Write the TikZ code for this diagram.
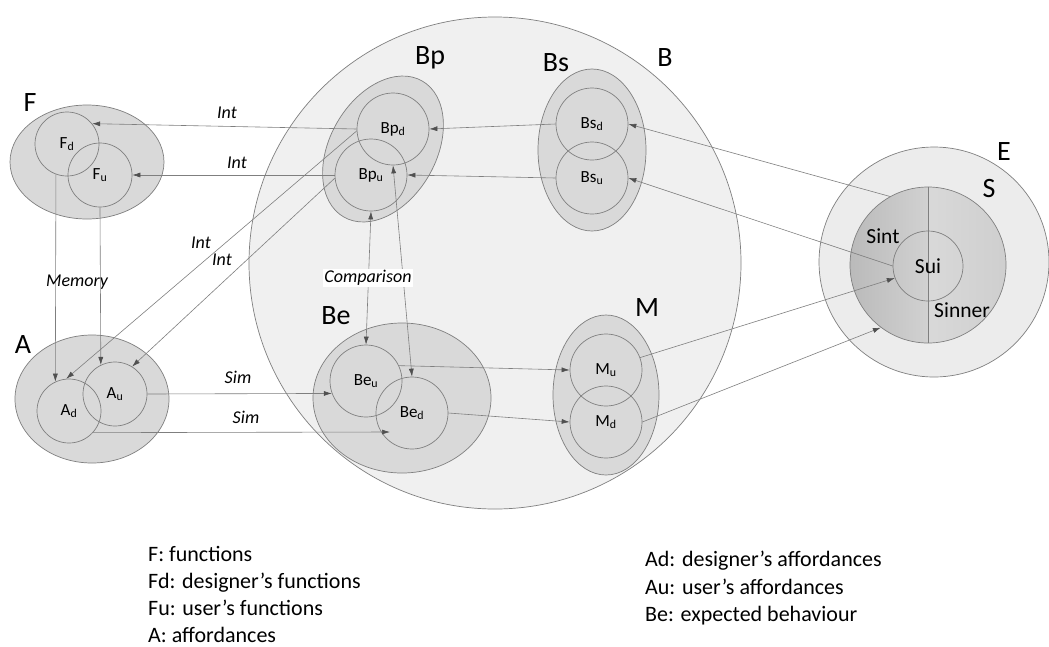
\documentclass[tikz,border=0pt]{standalone}
\usepackage{fontspec}
\setmainfont{Carlito}
\usetikzlibrary{shapes.geometric,arrows.meta,calc}
\definecolor{lgray}{HTML}{D9D9D9}
\definecolor{bgray}{HTML}{F0F0F0}
\definecolor{egray}{HTML}{ECECEC}
\definecolor{lineg}{HTML}{7F7F7F}
\definecolor{arrg}{HTML}{505050}
\begin{document}
\begin{tikzpicture}[x=1pt,y=-1pt,
  outline/.style={draw=lineg, line width=0.7pt},
  grp/.style={outline, fill=lgray, ellipse, inner sep=0pt},
  incirc/.style={outline, circle, inner sep=0pt, minimum size=#1, font=\fontsize{17}{19}\selectfont},
  incirc/.default=72pt,
  biglab/.style={font=\fontsize{28}{30}\selectfont, inner sep=0pt},
  mid/.style={font=\fontsize{21.5}{24}\selectfont, inner sep=0pt},
  lab/.style={font=\itshape\fontsize{18}{20}\selectfont, inner sep=1pt},
  conn/.style={draw=lineg, line width=0.6pt, -{Latex[length=8pt,width=5pt,color=arrg]}},
  dconn/.style={draw=lineg, line width=0.6pt, {Latex[length=8pt,width=5pt,color=arrg]}-{Latex[length=8pt,width=5pt,color=arrg]}},
  legend/.style={font=\fontsize{22}{27}\selectfont, anchor=base west, inner sep=0pt}
]
\useasboundingbox (0,0) rectangle (1049,646);
\fill[white] (0,0) rectangle (1049,646);

% big circle B
\node[circle, outline, fill=bgray, minimum size=492pt, inner sep=0pt] (B) at (495,263) {};

% E and S
\node[circle, outline, fill=egray, minimum size=230pt, inner sep=0pt] (E) at (934,262) {};
\begin{scope}
  \clip (928,265) circle (78pt);
  \shade[left color=black!27, right color=black!18] (850,187) rectangle (928,343);
  \shade[left color=black!15, right color=black!19] (928,187) rectangle (1006,343);
\end{scope}
\node[circle, outline, minimum size=156pt, inner sep=0pt] (S) at (928,265) {};
\draw[outline] (S.north) -- (S.south);
\node[circle, outline, minimum size=70pt, inner sep=0pt] (Sui) at (928,266) {};

% group ellipses
\node[grp, minimum width=154pt, minimum height=114pt] (F) at (87,162) {};
\node[grp, minimum width=154pt, minimum height=128pt] (A) at (92,399) {};
\node[grp, minimum width=157pt, minimum height=106pt, rotate=60] (Bp) at (383,149) {};
\node[grp, minimum width=108pt, minimum height=162pt] (Bs) at (592,150) {};
\node[grp, minimum width=178pt, minimum height=150pt] (Be) at (402,398) {};
\node[grp, minimum width=106pt, minimum height=160pt] (M) at (606,395) {};

% inner circles
\node[incirc=64pt] (Fd) at (67,144) {F\textsubscript{d}};
\node[incirc=64pt] (Fu) at (100,175) {F\textsubscript{u}};
\node[incirc=64pt] (Ad) at (69,411) {A\textsubscript{d}};
\node[incirc=64pt] (Au) at (115,394) {A\textsubscript{u}};
\node[incirc] (Bpd) at (393,129) {Bp\textsubscript{d}};
\node[incirc] (Bpu) at (371,175) {Bp\textsubscript{u}};
\node[incirc] (Bsd) at (592,124) {Bs\textsubscript{d}};
\node[incirc] (Bsu) at (592,178) {Bs\textsubscript{u}};
\node[incirc] (Beu) at (366,381) {Be\textsubscript{u}};
\node[incirc] (Bed) at (412,413) {Be\textsubscript{d}};
\node[incirc] (Mu) at (606,370) {M\textsubscript{u}};
\node[incirc] (Md) at (606,422) {M\textsubscript{d}};

% connectors
\draw[conn] (Bpd.west) -- (Fd.39);
\draw[conn] (Bpu.west) -- (Fu.east);
\draw[conn] (Bpd.183) -- (Ad.95);
\draw[conn] (Bpu.185) -- (Au.58);
\draw[conn] (Fd.250) -- (Ad.115);
\draw[conn] (Fu.south) -- (Au.116);
\draw[conn] (Au.east) -- (Beu.200);
\coordinate (simend) at ($(Bed.center)+(-22,19)$);
\draw[conn] (Ad.318) -- (simend);
\draw[dconn] (Bpu.south) -- (Beu.north);
\draw[dconn] (Bpd.south) -- (Bed.north);
\draw[conn] (Bsd.west) -- (Bpd.east);
\draw[conn] (Bsu.west) -- (Bpu.east);
\draw[conn] (Beu.25) -- (Mu.west);
\draw[conn] (Bed.east) -- (Md.west);
\draw[conn] (S.119) -- (Bsd.east);
\draw[conn] (Sui.west) -- (Bsu.east);
\draw[conn] (Mu.20) -- (Sui.200);
\draw[conn] (Md.east) -- (S.233);

% connector labels
\node[lab] (int1) at (227,113) {Int};
\node[lab] (int2) at (237,163) {Int};
\node[lab] (int3) at (201,243) {Int};
\node[lab] (int4) at (222,260) {Int};
\node[lab] (mem) at (77,282) {Memory};
\node[lab] (sim1) at (238,377) {Sim};
\node[lab] (sim2) at (246,417) {Sim};
\node[lab, fill=white] (cmp) at (368,278) {Comparison};

% group labels
\node[biglab] (lF) at (30,103) {F};
\node[biglab] (lA) at (23,345) {A};
\node[biglab] (lBp) at (430,58) {Bp};
\node[biglab] (lBs) at (556,63) {Bs};
\node[biglab] (lB) at (665,58) {B};
\node[biglab] (lBe) at (336,316) {Be};
\node[biglab] (lM) at (647,308) {M};
\node[biglab] (lE) at (1004,152) {E};
\node[biglab] (lS) at (989,189) {S};
\node[mid] (lSint) at (883,236) {Sint};
\node[mid] (lSui) at (928,266) {Sui};
\node[mid] (lSinner) at (962,310) {Sinner};

% legend
\node[legend] (g1) at (148,561.5) {F: functions};
\node[legend] (g2) at (148,588.5) {Fd: designer’s functions};
\node[legend] (g3) at (148,615.5) {Fu: user’s functions};
\node[legend] (g4) at (148,642) {A: affordances};
\node[legend] (g5) at (645,566) {Ad: designer’s affordances};
\node[legend] (g6) at (645,594) {Au: user’s affordances};
\node[legend] (g7) at (645,621.5) {Be: expected behaviour};
\end{tikzpicture}
\end{document}
